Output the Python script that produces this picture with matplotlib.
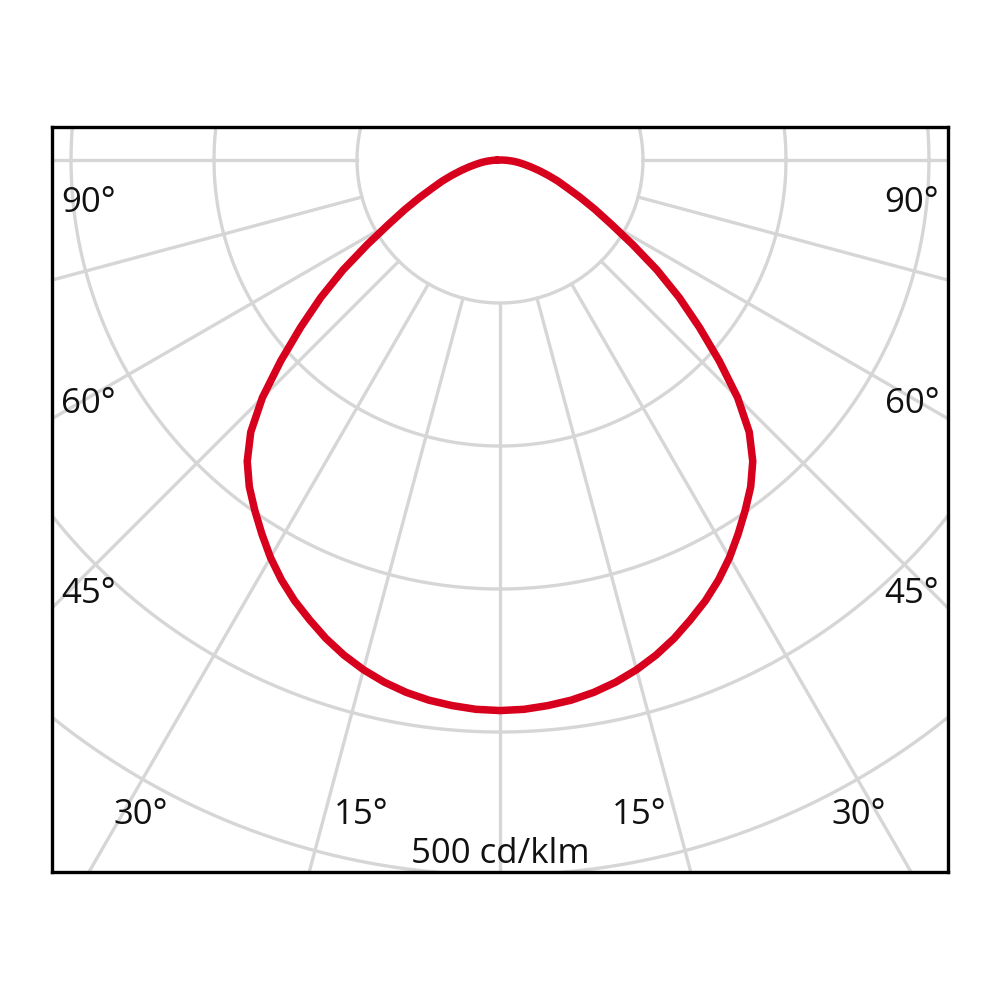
import numpy as np
import matplotlib
matplotlib.use('Agg')
import matplotlib.pyplot as plt

# Light distribution curve (cd/klm), angle measured from nadir, symmetric
angles = [0, 2.5, 5, 7.5, 10, 12.5, 15, 17.5, 20, 22.5, 25, 27.5, 30, 32.5,
          35, 37.5, 40, 42.5, 45, 47.5, 50, 52.5, 55, 57.5, 60, 62.5, 65,
          67.5, 70, 72.5, 75, 77.5, 80, 82.5, 85, 87.5, 90]
intensity = [385, 384.5, 383, 381, 378, 374, 369, 363, 356, 348, 340, 331, 321, 310,
             299, 288, 275, 258, 235, 208, 182, 158, 134, 110, 90, 75, 62,
             51, 43, 35, 28, 22, 17, 13, 9, 5, 2]

rings = [100, 200, 300, 400, 500]
spokes = [-90, -75, -60, -45, -30, -15, 0, 15, 30, 45, 60, 75, 90]

angle_labels = ['90°', '60°', '45°', '30°', '15°']
label_pos = [(-288, -36), (-288, -177), (-288, -310), (-251, -464), (-97, -464)]
scale_label = '500 cd/klm'

grid_col = '#d6d6d6'
red = '#d7001d'
ink = '#111111'

fig = plt.figure(figsize=(10, 10), dpi=100)
ax = fig.add_axes([0.052, 0.128, 0.896, 0.745])

# rings
t = np.linspace(0, 2 * np.pi, 721)
for r in rings:
    ax.plot(r * np.cos(t), r * np.sin(t), color=grid_col, lw=2.4, zorder=1)

# spokes, starting at the inner ring
for a in spokes:
    rad = np.radians(a)
    ax.plot([100 * np.sin(rad), 900 * np.sin(rad)],
            [-100 * np.cos(rad), -900 * np.cos(rad)],
            color=grid_col, lw=2.4, zorder=1)

# curve (mirror the half for the other side, closed at the top)
th = np.radians(np.array(angles))
I = np.array(intensity)
th_full = np.concatenate([-th[::-1], th[1:], [-th[-1]]])
I_full = np.concatenate([I[::-1], I[1:], [I[-1]]])
ax.plot(I_full * np.sin(th_full), -I_full * np.cos(th_full),
        color=red, lw=5.4, solid_joinstyle='round', solid_capstyle='round', zorder=3)

for txt, (x, y) in zip(angle_labels, label_pos):
    ax.text(x, y, txt, ha='center', va='baseline', fontsize=25,
            family='Open Sans', color=ink, zorder=4)
    ax.text(-x, y, txt, ha='center', va='baseline', fontsize=25,
            family='Open Sans', color=ink, zorder=4)
ax.text(0, -491.5, scale_label, ha='center', va='baseline', fontsize=25,
        family='Open Sans', color=ink, zorder=4)

ax.set_xlim(-313.3, 313.3)
ax.set_ylim(-497.9, 23.1)
ax.set_aspect('equal')
ax.set_xticks([])
ax.set_yticks([])
for s in ax.spines.values():
    s.set_linewidth(2.4)
    s.set_color('black')

fig.savefig('out.png', dpi=100, facecolor='white')
